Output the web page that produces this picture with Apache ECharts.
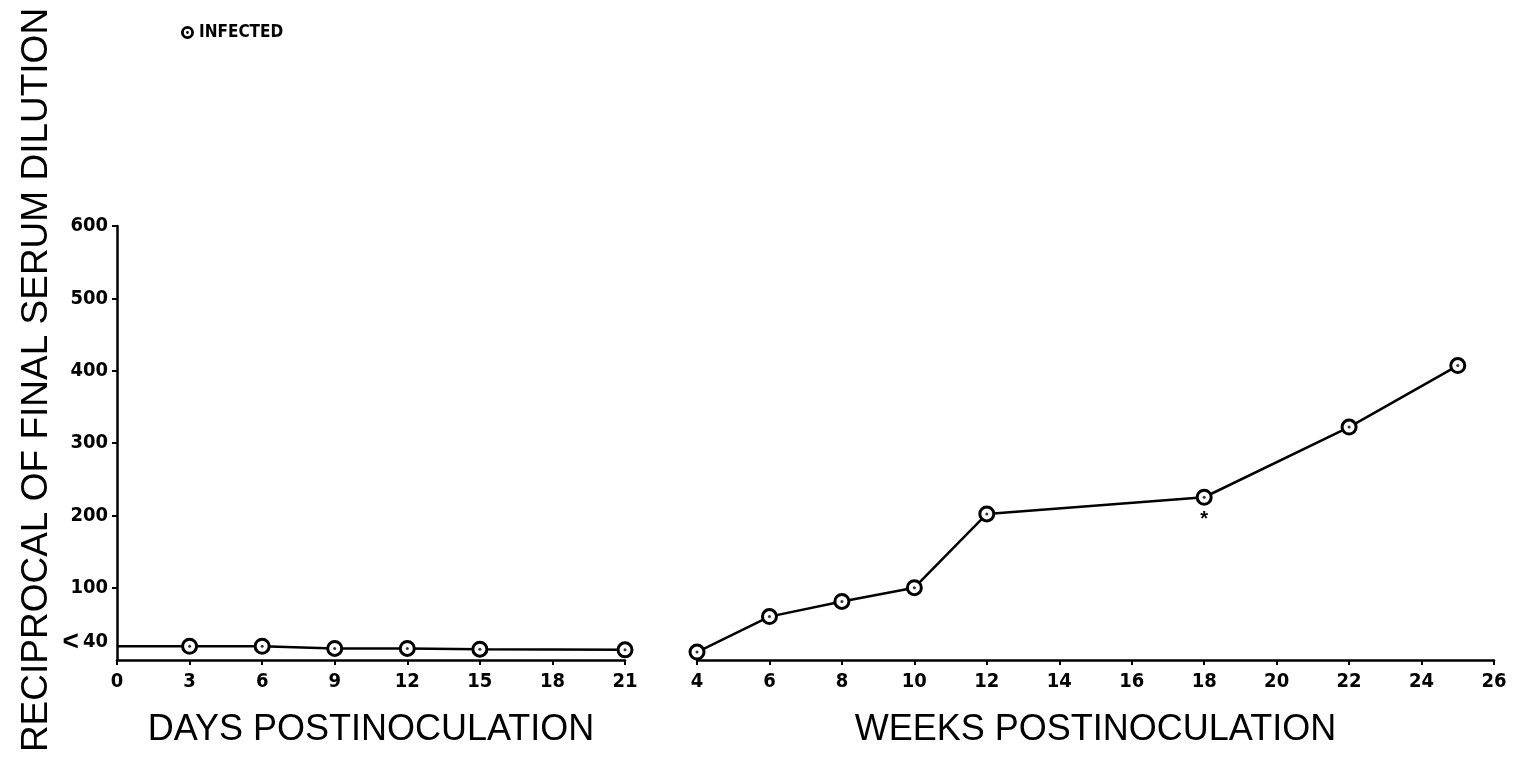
<!DOCTYPE html>
<html>
<head>
<meta charset="utf-8">
<script src="https://cdn.jsdelivr.net/npm/echarts@6/dist/echarts.min.js"></script>
<style>
  html, body { margin: 0; padding: 0; background: #fff; }
  #main { width: 1514px; height: 759px; }
</style>
</head>
<body>
<div id="main"></div>
<script>
var myChart = echarts.init(document.getElementById('main'));

// days panel
var dayX = [0, 3, 6, 9, 12, 15, 21];
var dayY = [19, 19, 19, 16, 16, 15, 14];
// weeks panel
var weekX = [4, 6, 8, 10, 12, 18, 22, 25];
var weekY = [11, 60, 81, 100, 202, 225, 322, 407];
var starWeek = 18;

var yTicks = [100, 200, 300, 400, 500, 600];
var yLabelVals = [25, 100, 200, 300, 400, 500, 600];

var numFont = "'Liberation Sans Narrow', 'DejaVu Sans Condensed', sans-serif";
var titleFont = "'Liberation Sans', Arial, sans-serif";
var ringIcon = 'path://M0,7a7,7 0 1,0 14,0a7,7 0 1,0 -14,0zM3,7a4,4 0 1,1 8,0a4,4 0 1,1 -8,0zM5.5,7a1.5,1.5 0 1,0 3,0a1.5,1.5 0 1,0 -3,0z';

var dayData = dayX.map(function (x, i) {
    if (i === 0) return {value: [x, dayY[i]], symbol: 'none'};
    return [x, dayY[i]];
});
var weekData = weekX.map(function (x, i) {
    if (x === starWeek) {
        return {
            value: [x, weekY[i]],
            label: {show: true, position: 'bottom', distance: 4, formatter: '*',
                     fontSize: 20, fontWeight: 'bold', color: '#000'}
        };
    }
    return [x, weekY[i]];
});
var dayDots = dayX.slice(1).map(function (x, i) { return [x, dayY[i + 1]]; });
var weekDots = weekX.map(function (x, i) { return [x, weekY[i]]; });

var axisLine = {show: true, lineStyle: {color: '#000', width: 2.5}};
var axisTick = {show: true, length: 5, lineStyle: {color: '#000', width: 2}};
var numLabel = {color: '#000', fontFamily: numFont, fontWeight: 'bold', fontSize: 20};

var lineStyleCommon = {color: '#000', width: 2.5};
var ringStyle = {color: '#fff', borderColor: '#000', borderWidth: 3};

option = {
    backgroundColor: '#fff',
    animation: false,
    graphic: [{
        type: 'text',
        x: 37,
        y: 380,
        rotation: Math.PI / 2,
        style: {
            text: 'RECIPROCAL OF FINAL SERUM DILUTION',
            fill: '#000',
            font: "37px 'Liberation Sans', Arial, sans-serif",
            textAlign: 'center',
            textVerticalAlign: 'middle'
        }
    }],
    legend: {
        left: 176,
        top: 19,
        data: [{name: 'INFECTED', icon: ringIcon}],
        itemWidth: 13,
        itemHeight: 13,
        itemGap: 10,
        itemStyle: {color: '#000', borderWidth: 0},
        textStyle: {color: '#000', fontFamily: numFont, fontWeight: 'bold', fontSize: 17}
    },
    grid: [
        {left: 117, right: 889, top: 226, bottom: 99, outerBoundsMode: 'none', containLabel: false},
        {left: 697, right: 20, top: 226, bottom: 99, outerBoundsMode: 'none', containLabel: false}
    ],
    xAxis: [
        {
            gridIndex: 0, type: 'value', min: 0, max: 21, interval: 3,
            name: 'DAYS POSTINOCULATION', nameLocation: 'middle', nameGap: 52,
            nameTextStyle: {color: '#000', fontFamily: titleFont, fontSize: 36},
            axisLine: axisLine, axisTick: axisTick, splitLine: {show: false},
            axisLabel: Object.assign({margin: 12}, numLabel)
        },
        {
            gridIndex: 1, type: 'value', min: 4, max: 26, interval: 2,
            name: 'WEEKS POSTINOCULATION', nameLocation: 'middle', nameGap: 52,
            nameTextStyle: {color: '#000', fontFamily: titleFont, fontSize: 36},
            axisLine: axisLine, axisTick: axisTick, splitLine: {show: false},
            axisLabel: Object.assign({margin: 12}, numLabel)
        }
    ],
    yAxis: [
        {
            gridIndex: 0, type: 'value', min: 0, max: 600, interval: 100,
            axisLine: axisLine,
            axisTick: {show: true, length: 5, customValues: yTicks, lineStyle: {color: '#000', width: 2}},
            splitLine: {show: false},
            axisLabel: Object.assign({}, numLabel, {
                margin: 9,
                customValues: yLabelVals,
                formatter: function (v) { return v === 25 ? '{lt|<}{n|40}' : String(v); },
                rich: {
                    lt: {fontFamily: titleFont, fontSize: 28, color: '#000', padding: [0, 4, 0, 0]},
                    n: {fontFamily: numFont, fontWeight: 'bold', fontSize: 20, color: '#000'}
                }
            })
        },
        {
            gridIndex: 1, type: 'value', min: 0, max: 600, interval: 100, show: false
        }
    ],
    series: [
        {
            name: 'INFECTED', type: 'line', xAxisIndex: 0, yAxisIndex: 0,
            data: dayData, symbol: 'circle', symbolSize: 14,
            lineStyle: lineStyleCommon, itemStyle: ringStyle, z: 2
        },
        {
            name: 'INFECTED', type: 'line', xAxisIndex: 1, yAxisIndex: 1,
            data: weekData, symbol: 'circle', symbolSize: 14,
            lineStyle: lineStyleCommon, itemStyle: ringStyle, z: 2
        },
        {
            name: 'dots-days', type: 'scatter', xAxisIndex: 0, yAxisIndex: 0,
            data: dayDots, symbolSize: 3, itemStyle: {color: '#000'}, z: 5
        },
        {
            name: 'dots-weeks', type: 'scatter', xAxisIndex: 1, yAxisIndex: 1,
            data: weekDots, symbolSize: 3, itemStyle: {color: '#000'}, z: 5
        }
    ]
};
myChart.setOption(option);
</script>
</body>
</html>
